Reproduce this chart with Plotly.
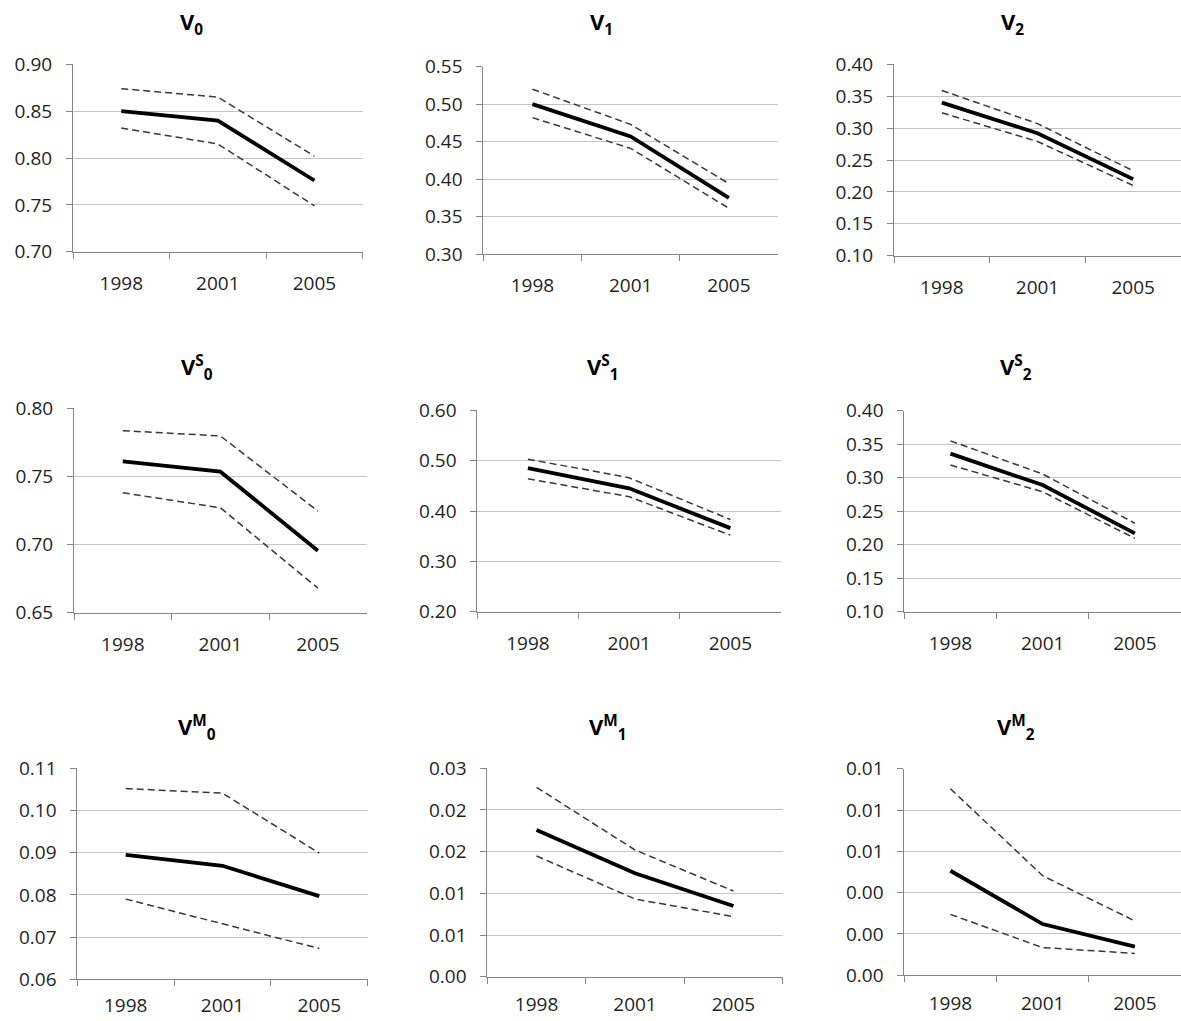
import plotly.graph_objects as go

# ---------------- data ----------------
years = ["1998", "2001", "2005"]

titles = [
    "V<sub>0</sub>", "V<sub>1</sub>", "V<sub>2</sub>",
    "V<sup>S</sup><sub>0</sub>", "V<sup>S</sup><sub>1</sub>", "V<sup>S</sup><sub>2</sub>",
    "V<sup>M</sup><sub>0</sub>", "V<sup>M</sup><sub>1</sub>", "V<sup>M</sup><sub>2</sub>",
]

V0_mean = [0.850, 0.840, 0.776]
V0_upper = [0.874, 0.865, 0.802]
V0_lower = [0.832, 0.815, 0.749]

V1_mean = [0.500, 0.457, 0.375]
V1_upper = [0.520, 0.473, 0.394]
V1_lower = [0.482, 0.441, 0.361]

V2_mean = [0.340, 0.292, 0.220]
V2_upper = [0.359, 0.307, 0.233]
V2_lower = [0.324, 0.279, 0.210]

VS0_mean = [0.761, 0.7535, 0.6955]
VS0_upper = [0.7836, 0.7797, 0.7246]
VS0_lower = [0.738, 0.727, 0.668]

VS1_mean = [0.485, 0.445, 0.366]
VS1_upper = [0.503, 0.466, 0.383]
VS1_lower = [0.464, 0.4285, 0.352]

VS2_mean = [0.336, 0.289, 0.217]
VS2_upper = [0.355, 0.3055, 0.232]
VS2_lower = [0.319, 0.279, 0.2095]

VM0_mean = [0.0895, 0.0869, 0.0797]
VM0_upper = [0.1052, 0.1041, 0.0899]
VM0_lower = [0.0790, 0.0731, 0.0673]

VM1_mean = [0.0176, 0.0124, 0.00848]
VM1_upper = [0.02272, 0.0152, 0.01028]
VM1_lower = [0.01448, 0.00932, 0.0072]

VM2_mean = [0.00506, 0.00248, 0.00139]
VM2_upper = [0.00903, 0.00482, 0.00263]
VM2_lower = [0.00295, 0.00134, 0.00106]

V0_ticks = [0.70, 0.75, 0.80, 0.85, 0.90]
V0_labels = ["0.70", "0.75", "0.80", "0.85", "0.90"]
V1_ticks = [0.30, 0.35, 0.40, 0.45, 0.50, 0.55]
V1_labels = ["0.30", "0.35", "0.40", "0.45", "0.50", "0.55"]
V2_ticks = [0.10, 0.15, 0.20, 0.25, 0.30, 0.35, 0.40]
V2_labels = ["0.10", "0.15", "0.20", "0.25", "0.30", "0.35", "0.40"]
VS0_ticks = [0.65, 0.70, 0.75, 0.80]
VS0_labels = ["0.65", "0.70", "0.75", "0.80"]
VS1_ticks = [0.20, 0.30, 0.40, 0.50, 0.60]
VS1_labels = ["0.20", "0.30", "0.40", "0.50", "0.60"]
VS2_ticks = [0.10, 0.15, 0.20, 0.25, 0.30, 0.35, 0.40]
VS2_labels = ["0.10", "0.15", "0.20", "0.25", "0.30", "0.35", "0.40"]
VM0_ticks = [0.06, 0.07, 0.08, 0.09, 0.10, 0.11]
VM0_labels = ["0.06", "0.07", "0.08", "0.09", "0.10", "0.11"]
VM1_ticks = [0.0, 0.005, 0.010, 0.015, 0.020, 0.025]
VM1_labels = ["0.00", "0.01", "0.01", "0.02", "0.02", "0.03"]
VM2_ticks = [0.0, 0.002, 0.004, 0.006, 0.008, 0.010]
VM2_labels = ["0.00", "0.00", "0.00", "0.01", "0.01", "0.01"]

means = [V0_mean, V1_mean, V2_mean, VS0_mean, VS1_mean, VS2_mean, VM0_mean, VM1_mean, VM2_mean]
uppers = [V0_upper, V1_upper, V2_upper, VS0_upper, VS1_upper, VS2_upper, VM0_upper, VM1_upper, VM2_upper]
lowers = [V0_lower, V1_lower, V2_lower, VS0_lower, VS1_lower, VS2_lower, VM0_lower, VM1_lower, VM2_lower]
ticks = [V0_ticks, V1_ticks, V2_ticks, VS0_ticks, VS1_ticks, VS2_ticks, VM0_ticks, VM1_ticks, VM2_ticks]
labels = [V0_labels, V1_labels, V2_labels, VS0_labels, VS1_labels, VS2_labels, VM0_labels, VM1_labels, VM2_labels]

# ---------------- layout (pixels) ----------------
W, H = 1181, 1021
boxes = [  # left, right, top, bottom
    (73, 362.7, 64.3, 251.7),
    (483.3, 778, 66.7, 254),
    (894, 1181, 64.3, 255.7),
    (74, 366.7, 408.3, 612.7),
    (477.3, 781, 410.3, 611.7),
    (904.3, 1181, 410.7, 611.7),
    (77.3, 367.7, 768.3, 979.3),
    (487.3, 782.7, 768.3, 976.7),
    (904.3, 1181, 768.7, 975.3),
]
title_pos = [
    (191.7, 23), (601.7, 23), (1012, 23),
    (196.7, 367.5), (603, 367.5), (1016, 367.5),
    (197, 727.5), (608, 727.5), (1016, 727.5),
]
x_standoff = [14, 14, 14, 14, 14, 14, 9, 10, 11]

FONT = "Open Sans"
AXIS_COLOR = "#868686"
GRID_COLOR = "#c4c4c4"
TEXT_COLOR = "#1f1f1f"

fig = go.Figure()
layout = dict(
    width=W, height=H,
    margin=dict(l=0, r=0, t=0, b=0, pad=0, autoexpand=False),
    paper_bgcolor="white", plot_bgcolor="white",
    showlegend=False,
    font=dict(family=FONT, size=19, color=TEXT_COLOR),
    annotations=[],
)

for i in range(9):
    n = "" if i == 0 else str(i + 1)
    xref, yref = "x" + n, "y" + n
    l, r, t, b = boxes[i]
    for series, dash, width, color in (
        (uppers[i], "7px,4px", 1.5, "#383838"),
        (lowers[i], "7px,4px", 1.5, "#383838"),
        (means[i], "solid", 3.8, "black"),
    ):
        fig.add_trace(go.Scatter(
            x=years, y=series, mode="lines", xaxis=xref, yaxis=yref,
            line=dict(color=color, width=width, dash=dash),
            hoverinfo="skip",
        ))
    layout["xaxis" + n] = dict(
        domain=[l / W, min(r / W, 1.0)], anchor=yref,
        type="category", categoryorder="array", categoryarray=years,
        range=[-0.5, 2.5], automargin=False,
        showline=True, linecolor=AXIS_COLOR, linewidth=1,
        tickson="boundaries", ticks="outside", ticklen=6, tickcolor=AXIS_COLOR,
        showgrid=False, zeroline=False,
        tickfont=dict(family=FONT, size=19, color=TEXT_COLOR),
        ticklabelstandoff=x_standoff[i],
        fixedrange=True,
    )
    layout["yaxis" + n] = dict(
        domain=[1 - b / H, 1 - t / H], anchor=xref,
        range=[ticks[i][0], ticks[i][-1]], automargin=False,
        tickmode="array", tickvals=ticks[i], ticktext=labels[i],
        showline=True, linecolor=AXIS_COLOR, linewidth=1,
        ticks="outside", ticklen=6, tickcolor=AXIS_COLOR,
        showgrid=True, gridcolor=GRID_COLOR, gridwidth=1,
        zeroline=False,
        tickfont=dict(family=FONT, size=19, color=TEXT_COLOR),
        ticklabelstandoff=10,
        fixedrange=True,
    )
    tx, ty = title_pos[i]
    layout["annotations"].append(dict(
        text="<b>" + titles[i] + "</b>",
        x=tx / W, y=1 - ty / H, xref="paper", yref="paper",
        xanchor="center", yanchor="middle", showarrow=False,
        font=dict(family=FONT, size=22, color="black"),
    ))

fig.update_layout(**layout)
fig.write_html("out.html")
